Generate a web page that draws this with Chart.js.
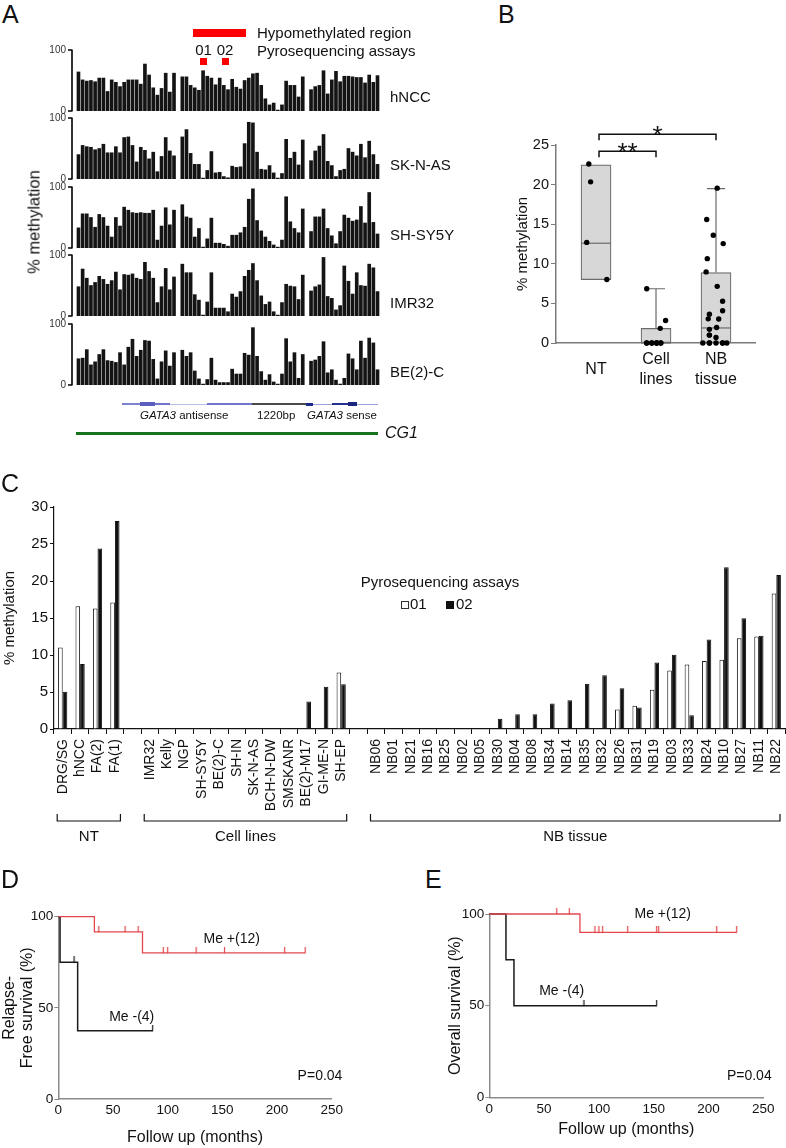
<!DOCTYPE html>
<html>
<head>
<meta charset="utf-8">
<script src="https://cdn.jsdelivr.net/npm/chart.js@4.4.1/dist/chart.umd.min.js"></script>
<style>
html, body { margin: 0; padding: 0; background: #fff; }
#fig { position: relative; width: 786px; height: 1148px; overflow: hidden;
       font-family: "Liberation Sans", Arial, Helvetica, sans-serif; color: #111; }
#fig canvas { position: absolute; }
.t { position: absolute; white-space: nowrap; line-height: 1.15; }
.blk { position: absolute; }
</style>
</head>
<body>
<div id="fig"></div>
<script>
// ---------- Panel A: % methylation per CpG site (null = no CpG at that position)
const hnccMeth   = [64,51,49,50,48,54,54,32,51,47,40,47,51,51,51,44,77,59,38,26,37,62,31,62, null,
  56,56,42,38,34,66,57,54,43,54,42,35,52,39,36,50,54,61,62,42,20,10,13,1.5,10,49,42,42,23,56, null,
  35,40,42,66,28,51,65,48,57,57,56,55,55,46,59,47,58];
const sknasMeth  = [40,55,53,52,48,50,57,43,43,53,43,68,69,55,28,52,47,33,44,12,37,68,46,38, null,
  69,81,42,24,24,1.5,14,45,10,11,4,2,21,19,20,58,93,92,44,16,15,22,10,1.5,9,65,34,44,23,64, null,
  30,46,54,73,29,22,4,14,16,50,44,38,57,35,62,40,24];
const shsy5yMeth = [33,56,56,50,34,55,50,36,18,50,36,67,62,58,57,58,57,57,62,13,36,66,38,62, null,
  71,51,49,18,32,1.5,15,49,8,8,6,3,21,21,25,34,80,97,45,28,18,11,5,1.5,13,84,43,32,25,64, null,
  27,51,51,64,32,20,7,27,54,49,44,46,68,41,91,42,23];
const imr32Meth  = [48,77,62,50,55,65,60,52,58,72,43,68,67,69,62,60,88,73,62,22,48,78,43,64, null,
  85,71,71,35,26,1.5,23,71,13,13,13,7,36,31,40,65,75,86,58,33,19,23,7,1.5,22,52,49,48,27,67, null,
  41,48,51,96,32,29,10,17,82,57,36,71,50,49,85,79,40];
const be2cMeth   = [43,44,58,33,38,50,58,40,39,37,53,33,62,75,47,57,73,72,42,10,38,56,31,53, null,
  57,47,53,23,10,1.5,9,44,8,4,4,4,26,18,18,52,49,94,47,22,8,17,5,1.5,18,76,38,53,11,50, null,
  39,41,47,71,20,25,8,1.5,11,51,43,25,72,44,77,69,25];
const trackNames = ['hNCC', 'SK-N-AS', 'SH-SY5Y', 'IMR32', 'BE(2)-C'];

// ---------- Panel C: pyrosequencing assays 01 / 02
const ntNames   = ['DRG/SG', 'hNCC', 'FA(2)', 'FA(1)'];
const nt01      = [11.0, 16.6, 16.3, 17.1];
const nt02      = [5.05, 8.8, 24.4, 28.1];
const cellNames = ['IMR32', 'Kelly', 'NGP', 'SH-SY5Y', 'BE(2)-C', 'SH-IN', 'SK-N-AS', 'BCH-N-DW', 'SMSKANR', 'BE(2)-M17', 'GI-ME-N', 'SH-EP'];
const cell01    = [0, 0, 0, 0, 0, 0, 0, 0, 0, 0, 0, 7.65];
const cell02    = [0, 0, 0, 0, 0, 0, 0, 0, 0, 3.7, 5.7, 6.05];
const nbNames   = ['NB06', 'NB01', 'NB21', 'NB16', 'NB25', 'NB02', 'NB05', 'NB30', 'NB04', 'NB08', 'NB34', 'NB14',
                   'NB35', 'NB32', 'NB26', 'NB31', 'NB19', 'NB03', 'NB33', 'NB24', 'NB10', 'NB27', 'NB11', 'NB22'];
const nb01      = [0, 0, 0, 0, 0, 0, 0, 0, 0, 0, 0, 0, 0, 0, 2.65, 3.15, 5.3, 7.9, 8.7, 9.2, 9.35, 12.25, 12.5, 18.3];
const nb02      = [0, 0, 0, 0, 0, 0, 0, 1.4, 2.0, 2.0, 3.45, 3.9, 6.1, 7.25, 5.5, 2.9, 9.0, 10.05, 1.85, 12.1, 21.85, 14.95, 12.6, 20.8];
const groupNames = ['NT', 'Cell lines', 'NB tissue'];

// ---------- Panel B: box summary; points = mean of the two assays
const boxGroups = ['NT', ['Cell', 'lines'], ['NB', 'tissue']];
const boxQ1     = [8.0, 0, 0];
const boxMedian = [12.6, 0, 1.9];
const boxQ3     = [22.5, 1.85, 8.9];
const boxMax    = [22.5, 6.85, 19.5];
// horizontal jitter of the dots (category units)
const ntJitter   = [0.18, -0.155, -0.09, -0.12];
const cellJitter = [-0.155, -0.07, 0.01, 0.08, 0.08, 0.01, -0.07, -0.155, 0.01, 0.07, 0.16, -0.155];
const nbJitter   = [-0.22, -0.11, 0, 0.11, 0.18, -0.11, 0.11, 0, -0.11, -0.11, -0.11, 0.01,
                    -0.13, -0.11, 0.11, 0.045, 0.02, -0.165, 0.11, -0.145, -0.155, -0.045, 0.12, 0.02];

// ---------- Panels D / E: Kaplan-Meier steps (months, %)
const rfsPlusTime  = [0, 33, 77, 225.7];   const rfsPlusSurv  = [100, 91.7, 80.2, 80.2];
const rfsPlusCens  = [37, 61, 73, 96, 100, 126, 152, 207, 225.7];
const rfsMinusTime = [0, 1.6, 17.7, 86.3]; const rfsMinusSurv = [100, 75, 37.5, 37.5];
const rfsMinusCens = [14.4, 86.3];
const osPlusTime   = [0, 82.7, 225.7];     const osPlusSurv   = [100, 90, 90];
const osPlusCens   = [61.5, 73, 96.4, 100, 103.4, 126.3, 152.7, 154.5, 207.5, 225.7];
const osMinusTime  = [0, 15.2, 22.5, 152.7]; const osMinusSurv = [100, 75, 50, 50];
const osMinusCens  = [86.4, 152.7];

// =====================================================================
const FONT = '"Liberation Sans", Arial, Helvetica, sans-serif';
Chart.defaults.font.family = FONT;
Chart.defaults.color = '#111';
Chart.defaults.animation = false;
Chart.defaults.plugins.legend.display = false;
Chart.defaults.plugins.tooltip.enabled = false;
const RED = '#e2474d';
const fig = document.getElementById('fig');

function makeCanvas(x, y, w, h) {
  const c = document.createElement('canvas');
  c.width = w; c.height = h;
  c.style.left = x + 'px'; c.style.top = y + 'px';
  c.style.width = w + 'px'; c.style.height = h + 'px';
  fig.appendChild(c);
  return c;
}
function txt(html, x, y, size, o = {}) {
  const d = document.createElement('div');
  d.className = 't';
  d.innerHTML = html;
  d.style.fontSize = size + 'px';
  d.style.left = x + 'px';
  d.style.top = y + 'px';
  const tx = o.align === 'center' ? '-50%' : (o.align === 'right' ? '-100%' : '0');
  d.style.transform = 'translate(' + tx + ', -50%)' + (o.rotate ? ' rotate(' + o.rotate + 'deg)' : '');
  if (o.italic) d.style.fontStyle = 'italic';
  fig.appendChild(d);
}
function blk(x, y, w, h, css) {
  const d = document.createElement('div');
  d.className = 'blk';
  d.style.left = x + 'px'; d.style.top = y + 'px';
  d.style.width = w + 'px'; d.style.height = h + 'px';
  d.style.cssText += css;
  fig.appendChild(d);
}

// ---------------- Panel A ----------------
const trackAxis = {
  id: 'trackAxis',
  afterDraw(chart) {
    const ctx = chart.ctx, ys = chart.scales.y, x = chart.chartArea.left - 1;
    ctx.save();
    ctx.strokeStyle = '#000'; ctx.lineWidth = 1.6;
    ctx.beginPath();
    ctx.moveTo(x, ys.getPixelForValue(100) - 0.5); ctx.lineTo(x, ys.getPixelForValue(0) + 0.5);
    ys.ticks.forEach(t => { const y = ys.getPixelForValue(t.value); ctx.moveTo(x - 4, y); ctx.lineTo(x, y); });
    ctx.stroke();
    ctx.restore();
  }
};
const trackTops = [50, 118, 187, 255, 324];
const trackVals = [hnccMeth, sknasMeth, shsy5yMeth, imr32Meth, be2cMeth];
trackVals.forEach((vals, k) => {
  const cv = makeCanvas(0, trackTops[k] - 10, 380, 81);
  new Chart(cv, {
    type: 'bar',
    data: { datasets: [{
      data: vals.map((v, i) => v == null ? null : { x: i, y: v }).filter(Boolean),
      backgroundColor: '#141414', borderWidth: 0, barThickness: 3
    }] },
    options: {
      responsive: false, devicePixelRatio: 1,
      layout: { padding: { top: 10, bottom: 10, left: 0, right: 0 } },
      scales: {
        x: { type: 'linear', min: -1.32, max: 72.6, offset: false, display: false },
        y: {
          min: 0, max: 100,
          ticks: { stepSize: 100, font: { size: 10 }, padding: 2, color: '#333' },
          grid: { display: false, drawTicks: true, tickLength: 5 },
          border: { display: false },
          afterFit(s) { s.width = 73; s.paddingTop = 0; s.paddingBottom = 0; }
        }
      }
    },
    plugins: [trackAxis]
  });
});

// ---------------- Panel B ----------------
function meanPts(a, b, jit, cat) {
  return a.map((v, i) => ({ x: cat + jit[i], y: (v + b[i]) / 2 }));
}
const bPoints = [].concat(meanPts(nt01, nt02, ntJitter, 0),
                          meanPts(cell01, cell02, cellJitter, 1),
                          meanPts(nb01, nb02, nbJitter, 2));
const sigBrackets = [{ from: 0, to: 1, y: 24.2, label: '**' }, { from: 0, to: 2, y: 26.35, label: '*' }];
const boxExtras = {
  id: 'boxExtras',
  afterDatasetDraw(chart, args) {
    if (args.index !== 0) return;
    const ctx = chart.ctx, ys = chart.scales.y;
    ctx.save();
    ctx.strokeStyle = '#6b6b6b'; ctx.lineWidth = 1.2;
    args.meta.data.forEach((bar, i) => {
      const half = bar.width / 2;
      const ym = ys.getPixelForValue(boxMedian[i]);
      ctx.beginPath(); ctx.moveTo(bar.x - half, ym); ctx.lineTo(bar.x + half, ym); ctx.stroke();
      if (boxMax[i] > boxQ3[i]) {
        const y3 = ys.getPixelForValue(boxQ3[i]), yh = ys.getPixelForValue(boxMax[i]);
        ctx.beginPath(); ctx.moveTo(bar.x, y3); ctx.lineTo(bar.x, yh);
        ctx.moveTo(bar.x - 9, yh); ctx.lineTo(bar.x + 9, yh); ctx.stroke();
      }
    });
    ctx.restore();
  },
  afterDraw(chart) {
    const ctx = chart.ctx, xs = chart.scales.x, ys = chart.scales.y;
    ctx.save();
    ctx.strokeStyle = '#111'; ctx.lineWidth = 1.5; ctx.fillStyle = '#111';
    ctx.font = '26px ' + FONT; ctx.textAlign = 'center'; ctx.textBaseline = 'alphabetic';
    sigBrackets.forEach(b => {
      const x0 = xs.getPixelForValue(b.from) + 3, x1 = xs.getPixelForValue(b.to);
      const y = ys.getPixelForValue(b.y);
      ctx.beginPath(); ctx.moveTo(x0, y + 6); ctx.lineTo(x0, y); ctx.lineTo(x1, y); ctx.lineTo(x1, y + 6); ctx.stroke();
      ctx.fillText(b.label, (x0 + x1) / 2, y + 9.5);
    });
    ctx.restore();
  }
};
new Chart(makeCanvas(470, 110, 300, 290), {
  type: 'bar',
  data: { datasets: [
    { data: boxGroups.map((g, i) => ({ x: i, y: [boxQ1[i], boxQ3[i]] })),
      backgroundColor: '#d7d7d7', borderColor: '#6b6b6b', borderWidth: 1.2, borderSkipped: false,
      barThickness: 30, order: 2 },
    { type: 'scatter', data: bPoints, backgroundColor: '#000', borderWidth: 0, pointRadius: 2.7,
      clip: false, order: 1 }
  ] },
  options: {
    responsive: false, devicePixelRatio: 1,
    layout: { padding: { top: 35, right: 15, left: 0, bottom: 0 } },
    scales: {
      x: {
        type: 'linear', min: -0.667, max: 2.65, offset: false,
        afterBuildTicks(s) { s.ticks = boxGroups.map((g, i) => ({ value: i })); },
        ticks: { callback: v => boxGroups[v], font: { size: 16, lineHeight: 1.25 }, padding: 17,
                 crossAlign: 'center', maxRotation: 0, color: '#111' },
        grid: { display: false, drawTicks: false },
        border: { color: '#7a7a7a', width: 1.5 },
        afterFit(s) { s.height = 57; s.paddingLeft = 0; s.paddingRight = 0; }
      },
      y: {
        min: 0, max: 25,
        ticks: { stepSize: 5, font: { size: 14.5 }, padding: 2, color: '#111' },
        grid: { drawOnChartArea: false, tickLength: 5, color: '#7a7a7a' },
        border: { color: '#7a7a7a', width: 1.5 },
        title: { display: true, text: '% methylation', font: { size: 15 }, padding: { top: 43.6 } },
        afterFit(s) { s.width = 86; s.paddingTop = 0; s.paddingBottom = 0; }
      }
    }
  },
  plugins: [boxExtras]
});

// ---------------- Panel C ----------------
const cLabels = [].concat(ntNames, [''], cellNames, [''], nbNames);
const c01 = [].concat(nt01, [null], cell01, [null], nb01);
const c02 = [].concat(nt02, [null], cell02, [null], nb02);
const gStart = [0, ntNames.length + 1, ntNames.length + cellNames.length + 2];
const gLen = [ntNames.length, cellNames.length, nbNames.length];
const groupBrackets = {
  id: 'groupBrackets',
  afterDraw(chart) {
    const ctx = chart.ctx, xs = chart.scales.x, base = chart.chartArea.bottom;
    ctx.save();
    ctx.strokeStyle = '#111'; ctx.lineWidth = 1.2; ctx.fillStyle = '#111';
    ctx.font = '15px ' + FONT; ctx.textAlign = 'center'; ctx.textBaseline = 'middle';
    groupNames.forEach((g, k) => {
      const x0 = xs.getPixelForValue(gStart[k]) - 5.5;
      const x1 = Math.min(xs.getPixelForValue(gStart[k] + gLen[k] - 1) + 5.5, 780);
      const yl = base + 92;
      ctx.beginPath(); ctx.moveTo(x0, yl - 7); ctx.lineTo(x0, yl); ctx.lineTo(x1, yl); ctx.lineTo(x1, yl - 7); ctx.stroke();
      ctx.fillText(g, (x0 + x1) / 2, base + 108);
    });
    ctx.restore();
  }
};
new Chart(makeCanvas(0, 490, 786, 365), {
  type: 'bar',
  data: { labels: cLabels, datasets: [
    { data: c01, backgroundColor: '#fff', borderColor: '#111', borderWidth: 1,
      barPercentage: 1, categoryPercentage: 0.53 },
    { data: c02, backgroundColor: '#111', borderColor: '#111', borderWidth: 1,
      barPercentage: 1, categoryPercentage: 0.53 }
  ] },
  options: {
    responsive: false, devicePixelRatio: 1,
    layout: { padding: { top: 17, right: 1, left: 0, bottom: 0 } },
    scales: {
      x: {
        ticks: { font: { size: 14 }, padding: 5, minRotation: 90, maxRotation: 90, autoSkip: false, color: '#111' },
        grid: { drawOnChartArea: false, tickLength: 5, offset: true, color: '#111' },
        border: { color: '#111', width: 1.2 },
        afterFit(s) { s.height = 126; s.paddingLeft = 0; s.paddingRight = 0; }
      },
      y: {
        min: 0, max: 30,
        ticks: { stepSize: 5, font: { size: 15 }, padding: 2, color: '#111' },
        grid: { drawOnChartArea: false, tickLength: 4, color: '#111' },
        border: { color: '#111', width: 1.2 },
        title: { display: true, text: '% methylation', font: { size: 15 }, padding: { top: 0.5 } },
        afterFit(s) { s.width = 54; s.paddingTop = 0; s.paddingBottom = 0; }
      }
    }
  },
  plugins: [groupBrackets]
});

// ---------------- Panels D / E ----------------
function tickMark(color) {
  const c = document.createElement('canvas');
  c.width = 3; c.height = 12;
  const g = c.getContext('2d');
  g.strokeStyle = color; g.lineWidth = 1.2;
  g.beginPath(); g.moveTo(1.5, 0); g.lineTo(1.5, 6.5); g.stroke();
  return c;
}
function stepPts(t, s) { return t.map((v, i) => ({ x: v, y: s[i] })); }
function survAt(t, s, x) {
  let k = 0;
  for (let i = 0; i < t.length; i++) if (t[i] <= x) k = i;
  return s[k];
}
function kmChart(cv, o) {
  const grey = '#8c8c8c';
  return new Chart(cv, {
    type: 'line',
    data: { datasets: [
      { data: stepPts(o.pT, o.pS), borderColor: RED, borderWidth: 1.3, stepped: 'before', pointRadius: 0, clip: false },
      { data: stepPts(o.mT, o.mS), borderColor: '#1a1a1a', borderWidth: 1.5, stepped: 'before', pointRadius: 0, clip: false },
      { type: 'scatter', data: o.pC.map(x => ({ x: x, y: survAt(o.pT, o.pS, x) })),
        pointStyle: tickMark(RED), pointRadius: 5, clip: false },
      { type: 'scatter', data: o.mC.map(x => ({ x: x, y: survAt(o.mT, o.mS, x) })),
        pointStyle: tickMark('#1a1a1a'), pointRadius: 5, clip: false }
    ] },
    options: {
      responsive: false, devicePixelRatio: 1,
      layout: { padding: { top: o.padTop, right: o.padRight, left: 0, bottom: 0 } },
      scales: {
        x: {
          type: 'linear', min: 0, max: 250,
          ticks: { stepSize: 50, font: { size: 13.5 }, padding: o.xTickPad, color: '#111' },
          grid: { display: false, drawTicks: false },
          border: { color: grey, width: 1.5 },
          title: { display: true, text: 'Follow up (months)', font: { size: 16 }, padding: { top: 0, bottom: o.xTitlePad } },
          afterFit(s) { s.height = o.xH; s.paddingLeft = 0; s.paddingRight = 0; }
        },
        y: {
          min: 0, max: 100,
          ticks: { stepSize: 50, font: { size: 13.5 }, padding: 1, color: '#111' },
          grid: { drawOnChartArea: false, tickLength: 4, color: grey },
          border: { color: grey, width: 1.5 },
          title: { display: true, text: o.yTitle, font: { size: 16, lineHeight: 1.1 }, padding: { top: o.yTitlePad } },
          afterFit(s) { s.width = o.yW; s.paddingTop = 0; s.paddingBottom = 0; }
        }
      }
    }
  });
}
kmChart(makeCanvas(0, 895, 350, 253), {
  pT: rfsPlusTime, pS: rfsPlusSurv, pC: rfsPlusCens,
  mT: rfsMinusTime, mS: rfsMinusSurv, mC: rfsMinusCens,
  padTop: 21.7, padRight: 18.3, xH: 49, yW: 58.3, xTickPad: 3, xTitlePad: 0.4,
  yTitle: ['Relapse-', 'Free survival (%)'], yTitlePad: 1.2
});
kmChart(makeCanvas(420, 895, 366, 253), {
  pT: osPlusTime, pS: osPlusSurv, pC: osPlusCens,
  mT: osMinusTime, mS: osMinusSurv, mC: osMinusCens,
  padTop: 19, padRight: 22.7, xH: 50.7, yW: 69.3, xTickPad: 3.6, xTitlePad: 9.1,
  yTitle: 'Overall survival (%)', yTitlePad: 27.1
});

// ---------------- text and annotations ----------------
txt('A', 2, 13.5, 25); txt('B', 498, 13.5, 25); txt('C', 1, 482.5, 25);
txt('D', 1, 879, 25); txt('E', 425, 879, 25);

// panel A header
blk(193, 29, 53, 8, 'background:#ff0000;');
txt('Hypomethylated region', 257, 33, 15);
txt('01', 203.5, 50, 15, { align: 'center' });
txt('02', 225, 50, 15, { align: 'center' });
txt('Pyrosequencing assays', 257, 51, 15);
blk(200, 58, 7, 7, 'background:#ff0000;');
blk(222, 58, 7, 7, 'background:#ff0000;');
txt('% methylation', 34, 222, 16.5, { align: 'center', rotate: -90 });
const labelY = [97, 165, 235, 303, 372];
trackNames.forEach((n, k) => txt(n, 390, labelY[k], 15));

// gene structure
[[121.7, 140, 2, '#7e83cf'], [140, 155, 4.5, '#5a5fbf'], [155, 170, 2.5, '#7075c9'], [170, 206.7, 1, '#b9bce6'],
 [206.7, 252.3, 2.5, '#7075c9'], [252.3, 306, 2, '#4a4a4a'], [306, 313.3, 3, '#1c2a8c'], [313.3, 331.7, 1, '#9aa0d8'],
 [331.7, 348.3, 2.5, '#23308f'], [348.3, 357.3, 4.5, '#1a2580'], [357.3, 378.3, 1, '#9aa0d8']]
  .forEach(p => blk(p[0], 404 - p[2] / 2, p[1] - p[0], p[2], 'background:' + p[3] + ';'));
txt('<i>GATA3</i> antisense', 140, 416, 11.5);
txt('1220bp', 257, 416, 11.5);
txt('<i>GATA3</i> sense', 307, 416, 11.5);
blk(76, 431.5, 302, 3.5, 'background:#17721c;');
txt('CG1', 385, 433, 16, { italic: true });

// panel C legend
txt('Pyrosequencing assays', 440, 582, 15, { align: 'center' });
blk(400.5, 600.5, 6.5, 6.5, 'border:1px solid #333;background:#fff;');
txt('01', 410, 604, 15);
blk(445.5, 600.5, 8, 8, 'background:#111;');
txt('02', 456, 604, 15);

// panels D / E labels
txt('Me +(12)', 231.7, 937.7, 14, { align: 'center' });
txt('Me -(4)', 131.7, 1016, 14, { align: 'center' });
txt('P=0.04', 320, 1075, 14, { align: 'center' });
txt('Me +(12)', 662.7, 913.3, 14, { align: 'center' });
txt('Me -(4)', 561.7, 990, 14, { align: 'center' });
txt('P=0.04', 749.3, 1075, 14, { align: 'center' });
</script>
</body>
</html>
